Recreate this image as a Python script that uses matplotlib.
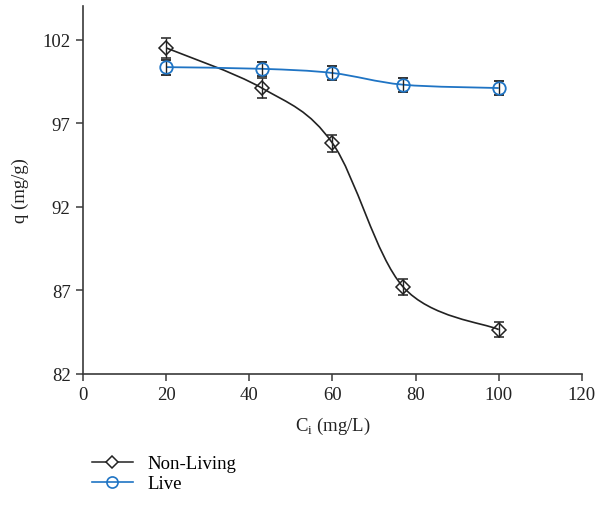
import numpy as np
import matplotlib
matplotlib.use("Agg")
import matplotlib.pyplot as plt
from matplotlib.path import Path
from matplotlib.patches import PathPatch
from matplotlib.lines import Line2D

plt.rcParams['font.family'] = ['Liberation Serif', 'DejaVu Serif']
plt.rcParams['mathtext.fontset'] = 'custom'
plt.rcParams['mathtext.rm'] = 'Liberation Serif'

conc = [20, 43, 60, 77, 100]
q_nonliving = [101.5, 99.1, 95.8, 87.2, 84.65]
err_nonliving = [0.6, 0.6, 0.5, 0.5, 0.45]
q_live = [100.35, 100.25, 100.0, 99.3, 99.1]
err_live = [0.45, 0.42, 0.42, 0.42, 0.42]

BLUE = '#1f74c4'
AXC = '#3a3a3a'


def smooth_path(x, y):
	# catmull-rom segments as cubic bezier pieces
	x = np.asarray(x, float)
	y = np.asarray(y, float)
	pts = np.column_stack([x, y])
	n = len(pts)
	verts = [pts[0]]
	codes = [Path.MOVETO]
	for i in range(n - 1):
		p0 = pts[i - 1] if i > 0 else pts[i]
		p1 = pts[i]
		p2 = pts[i + 1]
		p3 = pts[i + 2] if i + 2 < n else pts[i + 1]
		c1 = p1 + (p2 - p0) / 6.0
		c2 = p2 - (p3 - p1) / 6.0
		verts += [c1, c2, p2]
		codes += [Path.CURVE4] * 3
	return Path(verts, codes)


fig = plt.figure(figsize=(5.98, 5.10), dpi=100)
ax = fig.add_axes([0.139, 0.265, 0.834, 0.721])

ax.add_patch(PathPatch(smooth_path(conc, q_nonliving), fill=False, edgecolor='#222222', lw=1.2, zorder=2))
ax.add_patch(PathPatch(smooth_path(conc, q_live), fill=False, edgecolor=BLUE, lw=1.3, zorder=2))

ax.errorbar(conc, q_nonliving, yerr=err_nonliving, fmt='D', ms=7, mfc='none', mec='#222222',
			mew=1.1, ecolor='#222222', elinewidth=1.0, capsize=3.5, capthick=1.0, zorder=3)
ax.errorbar(conc, q_live, yerr=err_live, fmt='o', ms=9, mfc='none', mec=BLUE,
			mew=1.3, ecolor='#222222', elinewidth=1.0, capsize=3.5, capthick=1.0, zorder=3)

ax.set_xlim(0, 120)
ax.set_ylim(82, 104)
ax.set_xticks([0, 20, 40, 60, 80, 100, 120])
ax.set_yticks([82, 87, 92, 97, 102])
for s in ['top', 'right']:
	ax.spines[s].set_visible(False)
for s in ['left', 'bottom']:
	ax.spines[s].set_color(AXC)
	ax.spines[s].set_linewidth(1.2)
ax.tick_params(direction='out', length=5, width=1.1, color=AXC, labelsize=13.5, labelcolor='#222222', pad=4)

ax.set_xlabel('C$_\\mathrm{i}$ (mg/L)', fontsize=13.5, color='#222222', labelpad=8)
ax.set_ylabel('q (mg/g)', fontsize=13.5, color='#222222', labelpad=10)

handles = [
	Line2D([], [], color='#222222', lw=1.1, marker='D', ms=6.5, mfc='white', mec='#222222', mew=1.1),
	Line2D([], [], color=BLUE, lw=1.2, marker='o', ms=8, mfc='none', mec=BLUE, mew=1.2),
]
fig.legend(handles, ['Non-Living', 'Live'], loc='lower left', bbox_to_anchor=(0.125, 0.0),
		   frameon=False, fontsize=13.5, handlelength=2.2, handletextpad=0.8, labelspacing=0.15)

fig.savefig('out.png', dpi=100)
